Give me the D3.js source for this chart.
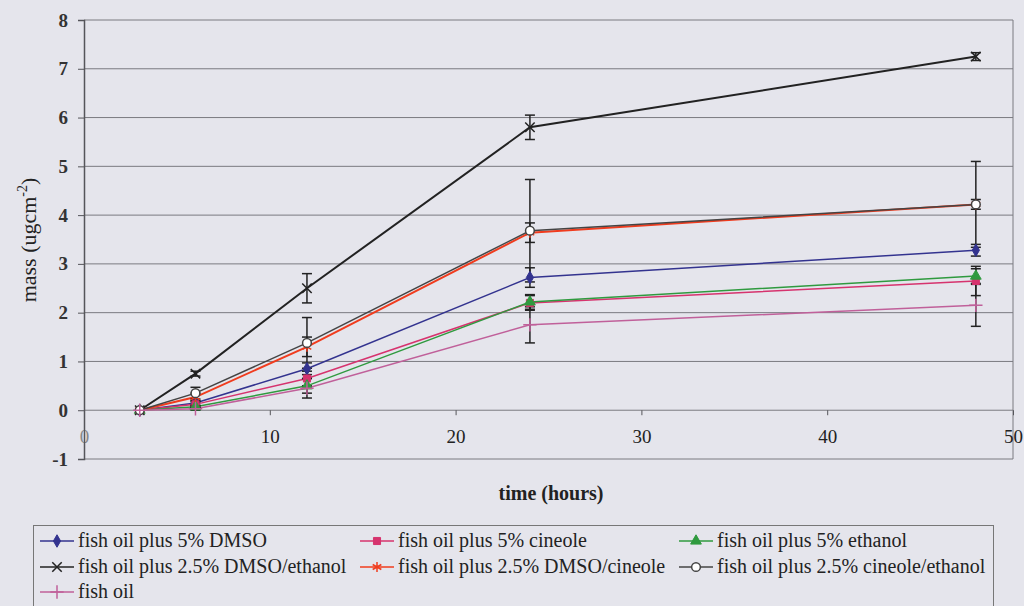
<!DOCTYPE html>
<html>
<head>
<meta charset="utf-8">
<script src="https://cdn.jsdelivr.net/npm/d3@7"></script>
<style>
  body { margin: 0; background: #e5e5ec; }
  svg, svg text { font-family: "Liberation Serif", "Times New Roman", Times, "DejaVu Serif", serif !important; }
</style>
</head>
<body>
<div id="chart"></div>
<script>
// Chart data
const times = [3, 6, 12, 24, 48];
const seriesNames = [
  "fish oil plus 5% DMSO",
  "fish oil plus 5% cineole",
  "fish oil plus 5% ethanol",
  "fish oil plus 2.5% DMSO/ethanol",
  "fish oil plus 2.5% DMSO/cineole",
  "fish oil plus 2.5% cineole/ethanol",
  "fish oil"
];
const dmso5 = [0, 0.15, 0.85, 2.72, 3.28];
const cineole5 = [0, 0.12, 0.65, 2.2, 2.65];
const ethanol5 = [0, 0.07, 0.5, 2.22, 2.75];
const dmsoEthanol = [0, 0.75, 2.5, 5.8, 7.25];
const dmsoCineole = [0, 0.27, 1.3, 3.64, 4.22];
const cineoleEthanol = [0, 0.35, 1.38, 3.68, 4.22];
const fishOil = [0, 0.03, 0.45, 1.75, 2.15];
// error bar half widths
const dmso5Err = [0, 0.05, 0.12, 0.2, 0.12];
const cineole5Err = [0, 0.05, 0.15, 0.15, 0.3];
const ethanol5Err = [0, 0.03, 0.15, 0.15, 0.15];
const dmsoEthanolErr = [0, 0.05, 0.3, 0.25, 0.08];
const dmsoCineoleErr = [0, 0.08, 0.2, 0.2, 0.1];
const cineoleEthanolErr = [0, 0.12, 0.52, 1.05, 0.88];
const fishOilErr = [0, 0.03, 0.2, 0.37, 0.43];
const xTicks = [0, 10, 20, 30, 40, 50];
const yTicks = [-1, 0, 1, 2, 3, 4, 5, 6, 7, 8];

const seriesValues = [dmso5, cineole5, ethanol5, dmsoEthanol, dmsoCineole, cineoleEthanol, fishOil];
const seriesErrors = [dmso5Err, cineole5Err, ethanol5Err, dmsoEthanolErr, dmsoCineoleErr, cineoleEthanolErr, fishOilErr];
const colors = ["#33338f", "#d6336e", "#2f9a3f", "#222222", "#f03c1e", "#444444", "#c0609a"];
const symbols = [d3.symbolDiamond, d3.symbolSquare, d3.symbolTriangle, d3.symbolTimes, d3.symbolAsterisk, d3.symbolCircle, d3.symbolPlus];
const filled = [true, true, true, false, false, false, false];

const width = 1024, height = 606;
const svg = d3.select("#chart").append("svg")
  .attr("width", width)
  .attr("height", height);

const x = d3.scaleLinear().domain([0, 50]).range([84, 1013]);
const y = d3.scaleLinear().domain([-1, 8]).range([459, 20]);
const fmt = d => String(d);

// gridlines
svg.append("g")
  .selectAll("line")
  .data(yTicks)
  .join("line")
  .attr("x1", x(0)).attr("x2", x(50))
  .attr("y1", d => y(d)).attr("y2", d => y(d))
  .attr("stroke", "#7a7a80").attr("stroke-width", 1);

// right border
svg.append("line")
  .attr("x1", x(50)).attr("x2", x(50))
  .attr("y1", y(8)).attr("y2", y(-1))
  .attr("stroke", "#7a7a80");

// x axis crossing at y = 0
const xAxis = svg.append("g")
  .attr("transform", `translate(0,${y(0)})`)
  .call(d3.axisBottom(x).tickValues(xTicks).tickSize(5).tickPadding(14).tickFormat(fmt));
xAxis.select(".domain").remove();
xAxis.selectAll(".tick line").attr("stroke", "#55555a");
xAxis.selectAll("text").attr("font-size", 19).attr("fill", "#222");
xAxis.selectAll(".tick").filter(d => d === 0).select("text").attr("fill", "#888");

// y axis
const yAxis = svg.append("g")
  .attr("transform", `translate(${x(0)},0)`)
  .call(d3.axisLeft(y).tickValues(yTicks).tickSize(6).tickPadding(10).tickFormat(fmt));
yAxis.select(".domain").attr("stroke", "#55555a").attr("stroke-width", 1.5);
yAxis.selectAll(".tick line").attr("stroke", "#55555a");
yAxis.selectAll("text").attr("font-size", 19).attr("font-weight", "bold").attr("fill", "#333");

// axis titles
svg.append("text")
  .attr("x", 551).attr("y", 500)
  .attr("text-anchor", "middle")
  .attr("font-size", 20).attr("font-weight", "bold")
  .attr("fill", "#222")
  .text("time (hours)");

const yTitle = svg.append("text")
  .attr("transform", "translate(36,240) rotate(-90)")
  .attr("text-anchor", "middle")
  .attr("font-size", 22).attr("fill", "#222");
yTitle.append("tspan").text("mass (ugcm");
yTitle.append("tspan").attr("dy", -9).attr("font-size", 14).text("-2");
yTitle.append("tspan").attr("dy", 9).text(")");

// lines
const line = d3.line().x((d, i) => x(times[i])).y(d => y(d));
seriesValues.forEach((vals, s) => {
  svg.append("path")
    .datum(vals)
    .attr("fill", "none")
    .attr("stroke", colors[s])
    .attr("stroke-width", s === 3 || s === 4 ? 2 : 1.5)
    .attr("d", line);
});

// error bars
seriesValues.forEach((vals, s) => {
  const g = svg.append("g").attr("stroke", "#222").attr("stroke-width", 1.5);
  vals.forEach((v, i) => {
    const e = seriesErrors[s][i];
    if (!e) return;
    const cx = x(times[i]);
    g.append("line").attr("x1", cx).attr("x2", cx).attr("y1", y(v - e)).attr("y2", y(v + e));
    [v - e, v + e].forEach(c => {
      g.append("line").attr("x1", cx - 5).attr("x2", cx + 5).attr("y1", y(c)).attr("y2", y(c));
    });
  });
});

// markers
function marker(g, s) {
  const size = [45, 50, 50, 60, 70, 60, 60][s];
  g.append("path")
    .attr("d", d3.symbol().type(symbols[s]).size(size))
    .attr("fill", filled[s] ? colors[s] : (s === 5 ? "#fff" : "none"))
    .attr("stroke", colors[s])
    .attr("stroke-width", filled[s] ? 1 : 1.5);
}
seriesValues.forEach((vals, s) => {
  vals.forEach((v, i) => {
    const g = svg.append("g").attr("transform", `translate(${x(times[i])},${y(v)})`);
    marker(g, s);
  });
});

// legend
const legend = svg.append("g");
legend.append("rect")
  .attr("x", 33.5).attr("y", 525.5)
  .attr("width", 960).attr("height", 90)
  .attr("fill", "#e5e5ec")
  .attr("stroke", "#777");
const colX = [40, 360, 679];
const rowY = [541, 567, 592];
seriesNames.forEach((name, s) => {
  const cx = colX[s % 3], cy = rowY[Math.floor(s / 3)];
  const g = legend.append("g").attr("transform", `translate(${cx},${cy})`);
  g.append("line").attr("x1", 0).attr("x2", 34).attr("stroke", colors[s]).attr("stroke-width", 1.5);
  const m = g.append("g").attr("transform", "translate(17,0)");
  marker(m, s);
  g.append("text")
    .attr("x", 38).attr("y", 6)
    .attr("font-size", 20).attr("fill", "#222")
    .text(name);
});
</script>
</body>
</html>
